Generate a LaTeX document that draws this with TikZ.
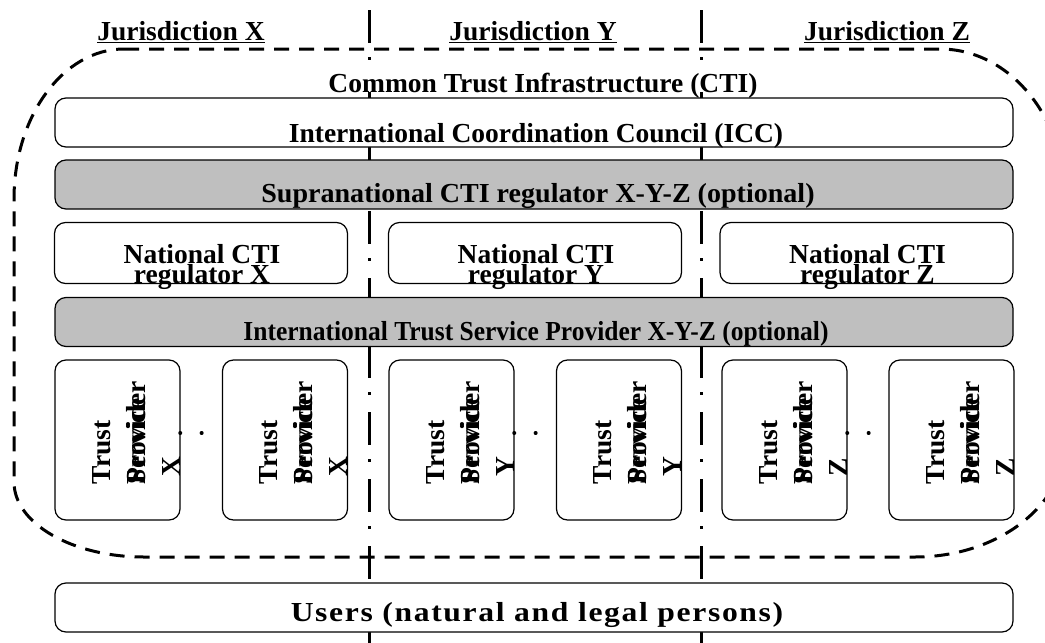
\documentclass[tikz,border=0pt]{standalone}
\usepackage{fontspec}
\setmainfont{Liberation Serif}
\usepackage{tikz}

\begin{document}
\begin{tikzpicture}
		[x=1pt,y=-1pt,
		%Styles
		box/.style={draw,rounded corners=11pt,line width=1.2pt,fill=white,inner sep=0pt,outer sep=0pt},
		opt/.style={fill=optgray},
		wide box/.style={box,minimum width=958pt,minimum height=49pt},
		national box/.style={box,minimum width=293pt,minimum height=61pt},
		provider box/.style={box,minimum width=125pt,minimum height=160pt},
		label text/.style={font=\bfseries\fontsize{27.5}{17}\selectfont,inner sep=0pt,anchor=base},
		provider text/.style={font=\bfseries\fontsize{27.5}{35}\selectfont,inner sep=0pt,align=left,rotate=90},
		border line/.style={line width=3pt,dash pattern=on 33pt off 14pt on 3pt off 17pt},
		cti line/.style={line width=3pt,dash pattern=on 15pt off 10pt},
		dots/.style={line width=3.5pt,line cap=round,dash pattern=on 0.5pt off 20.9pt}
		]
		
		%Colors
		\colorlet{optgray}{black!25}
		
		\useasboundingbox (0,0) rectangle (1045,643);
		
		%Jurisdiction borders
		\coordinate (XYtop) at (369,10);
		\coordinate (XYbot) at (369,643);
		\coordinate (YZtop) at (701,10);
		\coordinate (YZbot) at (701,643);
		\draw[border line] (XYtop) -- (XYbot);
		\draw[border line] (YZtop) -- (YZbot);
		
		%Common trust infrastructure
		\draw[cti line] (124,49) -- (940,49)
			arc[start angle=90,end angle=0,x radius=125pt,y radius=150pt] -- (1065,442)
			arc[start angle=0,end angle=-90,x radius=150pt,y radius=115pt] -- (144,557)
			arc[start angle=-90,end angle=-180,x radius=130pt,y radius=75pt] -- (14,199)
			arc[start angle=180,end angle=90,x radius=110pt,y radius=150pt] -- cycle;
		
		%Headings
		\node[label text] (jurX) at (181,40) {\underline{Jurisdiction X}};
		\node[label text] (jurY) at (533,40) {\underline{Jurisdiction Y}};
		\node[label text] (jurZ) at (887,40) {\underline{Jurisdiction Z}};
		\node[label text,fill=white,text depth=0pt] (cti) at (543,92) {Common Trust Infrastructure (CTI)};
		
		%The graphic
		\node[wide box] (icc) at (534,122.5) {};
		\node[wide box,opt] (supra) at (534,184.5) {};
		\node[national box] (natX) at (201,253) {};
		\node[national box] (natY) at (535,253) {};
		\node[national box] (natZ) at (866.5,253) {};
		\node[wide box,opt] (itsp) at (534,322) {};
		\node[provider box] (tspXa) at (117.5,440) {};
		\node[provider box] (tspXb) at (285,440) {};
		\node[provider box] (tspYa) at (451.5,440) {};
		\node[provider box] (tspYb) at (619,440) {};
		\node[provider box] (tspZa) at (784.5,440) {};
		\node[provider box] (tspZb) at (951.5,440) {};
		\node[wide box] (users) at (534,607.5) {};
		
		\node[label text] (iccText) at (536,142) {International Coordination Council (ICC)};
		\node[label text] (supraText) at (538,202) {\addfontfeatures{FakeStretch=1.02}Supranational CTI regulator X-Y-Z (optional)};
		\node[label text] (itspText) at (536,340) {\addfontfeatures{FakeStretch=0.927}International Trust Service Provider X-Y-Z (optional)};
		\node[label text] (usersText) at (537,621) {\addfontfeatures{FakeStretch=1.15,LetterSpace=6}Users (natural and legal persons)};
		
		\foreach \j in {X,Y,Z}{
			\node[label text,anchor=center,align=center] (natText\j) at ([xshift=1pt,yshift=-14pt]nat\j.center) {National CTI\\regulator \j};
			\foreach \k in {a,b}
				\node[provider text] (tspText\j\k) at ([xshift=18.5pt,yshift=7.5pt]tsp\j\k.center) {Trust\\\rlap{Service}Provider\\\hspace*{8pt}\j};
			\draw[dots] ([yshift=7pt]tsp\j a.east) -- ([yshift=7pt]tsp\j b.west);
		}
	\end{tikzpicture}
\end{document}
